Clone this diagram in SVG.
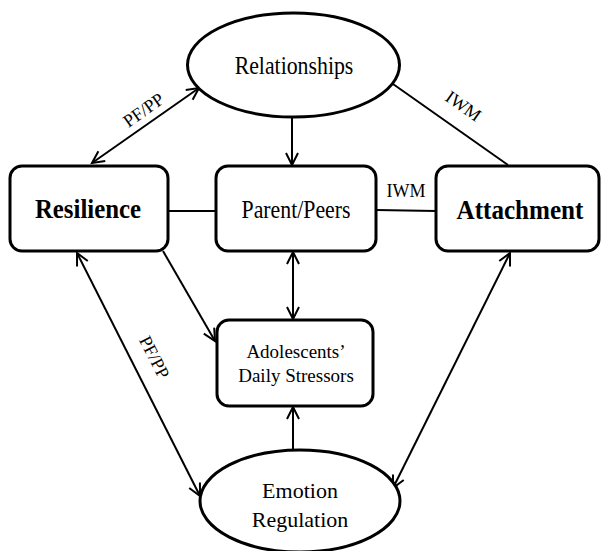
<svg xmlns="http://www.w3.org/2000/svg" width="602" height="551" viewBox="0 0 602 551">
  <style>
    .box { fill: #fff; stroke: #000; stroke-width: 3; }
    .ell { fill: #fff; stroke: #000; stroke-width: 3; }
    .t { font-family: "Liberation Serif", "Times New Roman", serif; fill: #000; text-anchor: middle; }
    .b { font-weight: bold; font-size: 27px; }
    .n { font-size: 22px; }
    .m { font-size: 24.5px; }
    .s { font-size: 19px; }
    .lbl { font-size: 18px; }
    .c { stroke: #000; stroke-width: 2; fill: none; }
  </style>
  <defs>
    <marker id="ah" markerUnits="userSpaceOnUse" markerWidth="16" markerHeight="16" refX="13" refY="7" orient="auto-start-reverse">
      <path d="M1,1 L13,7 L1,13" fill="none" stroke="#000" stroke-width="2"/>
    </marker>
  </defs>
  <rect width="602" height="551" fill="#fff"/>

  <g id="connectors">
    <line class="c" x1="92" y1="163" x2="199" y2="88" marker-start="url(#ah)" marker-end="url(#ah)"/>
    <line class="c" x1="393" y1="84" x2="508" y2="165"/>
    <line class="c" x1="292" y1="118" x2="292" y2="165" marker-end="url(#ah)"/>
    <line class="c" x1="168" y1="211" x2="216" y2="211"/>
    <line class="c" x1="376" y1="210" x2="436" y2="211"/>
    <line class="c" x1="293" y1="252" x2="293" y2="319" marker-start="url(#ah)" marker-end="url(#ah)"/>
    <line class="c" x1="163" y1="251" x2="215" y2="341" marker-end="url(#ah)"/>
    <line class="c" x1="77" y1="253" x2="200" y2="496" marker-start="url(#ah)" marker-end="url(#ah)"/>
    <line class="c" x1="510" y1="253" x2="393" y2="488" marker-start="url(#ah)" marker-end="url(#ah)"/>
    <line class="c" x1="293" y1="451" x2="293" y2="407" marker-end="url(#ah)"/>
    <text class="t lbl" transform="translate(147,115) rotate(-35)">PF/PP</text>
    <text class="t lbl" transform="translate(460,111) rotate(35)">IWM</text>
    <text class="t lbl" x="406" y="197">IWM</text>
    <text class="t lbl" transform="translate(149,360) rotate(63)">PF/PP</text>
  </g>

  <g id="relationships">
    <ellipse class="ell" cx="293.5" cy="65" rx="106" ry="52"/>
    <text class="t m" transform="translate(294,74) scale(0.89,1)">Relationships</text>
  </g>
  <g id="resilience">
    <rect class="box" x="10" y="166" width="158" height="85" rx="12"/>
    <text class="t b" transform="translate(88,218) scale(0.92,1)">Resilience</text>
  </g>
  <g id="parent-peers">
    <rect class="box" x="216" y="166" width="160" height="85" rx="12"/>
    <text class="t m" transform="translate(296,218) scale(0.89,1)">Parent/Peers</text>
  </g>
  <g id="attachment">
    <rect class="box" x="436" y="166" width="163" height="85" rx="12"/>
    <text class="t b" transform="translate(520,219) scale(0.93,1)">Attachment</text>
  </g>
  <g id="stressors">
    <rect class="box" x="217" y="320" width="156" height="86" rx="12"/>
    <text class="t s" x="296" y="358">Adolescents’</text>
    <text class="t s" x="296" y="382">Daily Stressors</text>
  </g>
  <g id="emotion-regulation">
    <ellipse class="ell" cx="300" cy="501" rx="100" ry="51"/>
    <text class="t n" x="300" y="498">Emotion</text>
    <text class="t n" x="300" y="527">Regulation</text>
  </g>
</svg>
